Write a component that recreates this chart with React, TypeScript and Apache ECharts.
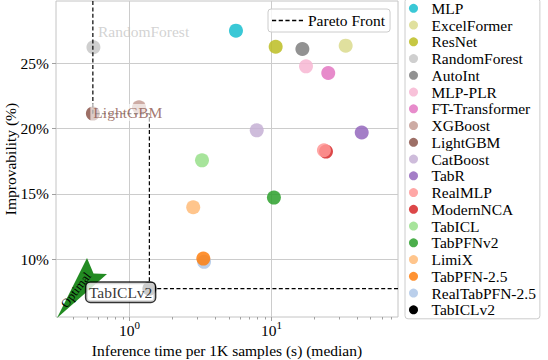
import React, { useEffect, useRef } from 'react';
import * as echarts from 'echarts';

const models = ['MLP', 'ExcelFormer', 'ResNet', 'RandomForest', 'AutoInt', 'MLP-PLR', 'FT-Transformer', 'XGBoost', 'LightGBM', 'CatBoost', 'TabR', 'RealMLP', 'ModernNCA', 'TabICL', 'TabPFNv2', 'LimiX', 'TabPFN-2.5', 'RealTabPFN-2.5', 'TabICLv2'];
const inferenceTime = [5.62, 33.3, 10.7, 0.557, 16.5, 17.5, 25.1, 1.167, 0.552, 7.87, 43.2, 23.4, 24.2, 3.24, 10.4, 2.81, 3.31, 3.35, 1.38];
const improvability = [27.5, 26.35, 26.27, 26.23, 26.1, 24.77, 24.26, 21.63, 21.15, 19.87, 19.7, 18.34, 18.24, 17.57, 14.72, 13.98, 10.05, 9.8, 7.75];
const colors = ['#17becf', '#dbdb8d', '#bcbd22', '#c7c7c7', '#7f7f7f', '#f7b6d2', '#e377c2', '#c49c94', '#8c564b', '#c5b0d5', '#9467bd', '#ff9896', '#d62728', '#98df8a', '#2ca02c', '#ffbb78', '#ff7f0e', '#aec7e8', '#000000'];
const drawnFirst = ['ModernNCA', 'RealTabPFN-2.5'];
const xMajorTicks = [1, 10];
const xMinorTicks = [0.4, 0.5, 0.6, 0.7, 0.8, 0.9, 2, 3, 4, 5, 6, 7, 8, 9, 20, 30, 40, 50, 60, 70];
const yTicks = [10, 15, 20, 25];
const X_MIN = 0.3036;
const X_MAX = 77.8;
const Y_MIN = 5.58;
const Y_MAX = 29.77;

const FONT = 'Liberation Serif, DejaVu Serif, serif';
const DASH_ICON = 'path://M0,0H4V1.2H0Z M6.4,0H10.4V1.2H6.4Z M12.8,0H16.8V1.2H12.8Z M19.2,0H23.2V1.2H19.2Z M25.6,0H29.6V1.2H25.6Z';

function paretoPath(): number[][] {
  const idx = models.map((_, i) => i).sort((a, b) => inferenceTime[a] - inferenceTime[b]);
  const front: number[][] = [];
  let best = Infinity;
  for (const i of idx) {
    if (improvability[i] < best) {
      best = improvability[i];
      front.push([inferenceTime[i], improvability[i]]);
    }
  }
  const path: number[][] = [[front[0][0], Y_MAX]];
  front.forEach((p, k) => {
    if (k > 0) path.push([p[0], front[k - 1][1]]);
    path.push(p);
  });
  path.push([X_MAX, front[front.length - 1][1]]);
  return path;
}

export default function App() {
  const ref = useRef<HTMLDivElement>(null);
  useEffect(() => {
    if (!ref.current) return;
    const chart = echarts.init(ref.current, undefined, { renderer: 'svg' });
    const order = models
      .map((_, i) => i)
      .sort((a, b) => (drawnFirst.includes(models[b]) ? 1 : 0) - (drawnFirst.includes(models[a]) ? 1 : 0));
    const scatterSeries = order.map((i) => ({
      name: models[i],
      type: 'scatter',
      xAxisIndex: 0,
      yAxisIndex: 0,
      symbol: 'circle',
      symbolSize: 14,
      z: 2,
      silent: true,
      itemStyle: { color: colors[i], opacity: i === models.length - 1 ? 1 : 0.85 },
      data: [[inferenceTime[i], improvability[i]]],
    }));
    const iRF = models.indexOf('RandomForest');
    const iLG = models.indexOf('LightGBM');
    const iT2 = models.indexOf('TabICLv2');
    const labelSeries = {
      name: '__labels',
      type: 'scatter',
      symbol: 'circle',
      symbolSize: 1,
      z: 4,
      silent: true,
      itemStyle: { color: 'rgba(0,0,0,0)' },
      data: [
        {
          value: [inferenceTime[iRF], improvability[iRF]],
          label: {
            show: true, formatter: 'RandomForest', position: [5, -15.5], align: 'left', verticalAlign: 'middle',
            color: '#c7c7c7', fontFamily: FONT, fontSize: 15.5,
          },
        },
        {
          value: [inferenceTime[iLG], improvability[iLG]],
          label: {
            show: true, formatter: 'LightGBM', position: [-2, -0.5], align: 'left', verticalAlign: 'middle',
            color: '#8c564b', fontFamily: FONT, fontSize: 15.5, lineHeight: 15,
            backgroundColor: 'rgba(255,255,255,0.8)', padding: [1, 3],
          },
        },
        {
          value: [inferenceTime[iT2], improvability[iT2]],
          label: {
            show: true, formatter: 'TabICLv2', position: [6, 4], align: 'right', verticalAlign: 'middle',
            color: '#000', fontFamily: FONT, fontSize: 15.5, lineHeight: 15,
            backgroundColor: '#fff', borderColor: '#000', borderWidth: 1.5, borderRadius: 4, padding: [2, 2.5],
          },
        },
      ],
    };
    const pareto = {
      name: 'Pareto Front',
      type: 'line',
      symbol: 'none',
      z: 3,
      silent: true,
      itemStyle: { color: '#000' },
      lineStyle: { color: '#000', width: 1.2, type: [4, 2.4] },
      data: paretoPath(),
    };
    const axisText = { fontFamily: FONT, fontSize: 15.5, color: '#000' };
    const option: any = {
      animation: false,
      grid: {
        left: 56, right: 150, top: 1, bottom: 43, show: true, borderColor: '#c4c4c4', borderWidth: 1,
        containLabel: false, outerBoundsMode: 'none',
      },
      xAxis: [
        {
          type: 'log', logBase: 10, min: X_MIN, max: X_MAX,
          axisLine: { show: false },
          axisTick: { show: true, customValues: xMajorTicks, length: 4, lineStyle: { color: '#a0a0a0' } },
          axisLabel: {
            customValues: xMajorTicks, margin: 5,
            formatter: (v: number) => `{b|10}{s|${Math.round(Math.log10(v))}}`,
            rich: {
              b: { fontFamily: FONT, fontSize: 15.5, lineHeight: 16, color: '#000' },
              s: { fontFamily: FONT, fontSize: 11, lineHeight: 11, padding: [0, 0, 10, 0], color: '#000' },
            },
          },
          splitLine: { show: true, lineStyle: { color: '#cccccc', width: 1 } },
          name: 'Inference time per 1K samples (s) (median)',
          nameLocation: 'middle', nameGap: 25, nameMoveOverlap: false,
          nameTextStyle: { ...axisText, lineHeight: 16 },
        },
        {
          type: 'log', logBase: 10, min: X_MIN, max: X_MAX, position: 'bottom',
          axisLine: { show: false },
          axisTick: { show: true, customValues: xMinorTicks, length: 2.5, lineStyle: { color: '#a0a0a0' } },
          axisLabel: { show: false },
          splitLine: { show: false },
        },
      ],
      yAxis: {
        type: 'value', min: Y_MIN, max: Y_MAX,
        axisLine: { show: false },
        axisTick: { show: true, customValues: yTicks, length: 4, lineStyle: { color: '#a0a0a0' } },
        axisLabel: { customValues: yTicks, formatter: '{value}%', margin: 7, ...axisText },
        splitLine: { show: true, lineStyle: { color: '#cccccc', width: 1 } },
        name: 'Improvability (%)', nameLocation: 'middle', nameGap: 38, nameRotate: 90, nameMoveOverlap: false,
        nameTextStyle: { ...axisText, lineHeight: 16 },
      },
      legend: [
        {
          orient: 'vertical', left: 405, top: -1.7,
          data: models.map((m) => ({ name: m, icon: 'circle' })),
          itemWidth: 26, itemHeight: 9, itemGap: 0.75,
          textStyle: { fontFamily: FONT, fontSize: 15.5, lineHeight: 16, color: '#000' },
          borderColor: '#cccccc', borderWidth: 1, borderRadius: 3, padding: [2, 4, 1, 4],
          backgroundColor: '#fff', selectedMode: false,
        },
        {
          left: 268, top: 9,
          data: [{ name: 'Pareto Front', icon: DASH_ICON }],
          itemWidth: 31, itemHeight: 1.3, symbolKeepAspect: false,
          itemStyle: { color: '#000' },
          textStyle: { fontFamily: FONT, fontSize: 15.5, lineHeight: 16, color: '#000' },
          borderColor: '#cccccc', borderWidth: 1, borderRadius: 3, padding: [3.5, 5, 3.5, 4],
          backgroundColor: 'rgba(255,255,255,0.8)', selectedMode: false,
        },
      ],
      graphic: [
        {
          type: 'polygon', z: 1, silent: true,
          shape: { points: [[57, 318], [87, 258], [93.5, 273.5], [107, 274]] },
          style: { fill: '#228b22' },
        },
        {
          type: 'text', z: 1, silent: true, x: 76, y: 290, rotation: (52.5 * Math.PI) / 180,
          style: { text: 'Optimal', fontFamily: FONT, fontSize: 12.5, fill: '#000', align: 'center', verticalAlign: 'middle' },
        },
      ],
      series: [...scatterSeries, pareto, labelSeries],
    };
    chart.setOption(option);
    return () => chart.dispose();
  }, []);
  return <div ref={ref} style={{ width: 548, height: 360, position: 'absolute', left: 0, top: 0 }} />;
}
